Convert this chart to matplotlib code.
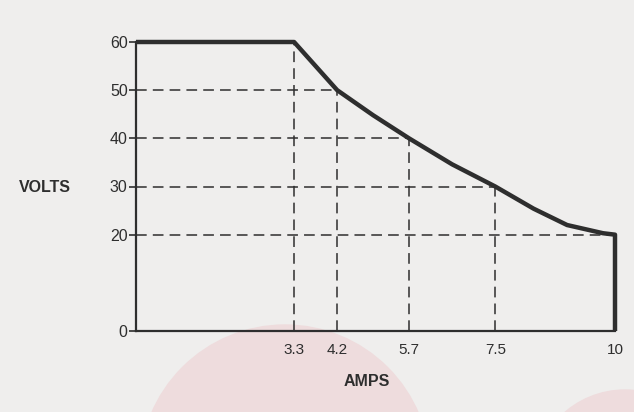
import matplotlib
matplotlib.use('Agg')
import matplotlib.pyplot as plt
from matplotlib.patches import Circle

# rated output envelope
amps = [0, 3.3, 3.75, 4.2, 4.95, 5.7, 6.6, 7.5, 8.3, 9.0, 9.75, 10, 10]
volts = [60, 60, 55, 50, 44.8, 40, 34.6, 30, 25.4, 22.0, 20.3, 20, 0]

# guide points marked on the axes
guide_amps = [3.3, 4.2, 5.7, 7.5, 10]
guide_volts = [60, 50, 40, 30, 20]

xtick_vals = [3.3, 4.2, 5.7, 7.5, 10]
xtick_labels = ['3.3', '4.2', '5.7', '7.5', '10']
ytick_vals = [0, 20, 30, 40, 50, 60]

ink = '#2e2e2e'
bg = '#efeeed'
pink = '#eedcdd'

plt.rcParams['font.family'] = ['Liberation Sans', 'DejaVu Sans']

fig = plt.figure(figsize=(6.34, 4.12), dpi=100, facecolor=bg)

# faint printed blobs behind the chart
fig.patches.append(Circle((285, -58), 145, transform=None, color=pink, zorder=0))
fig.patches.append(Circle((625, -70), 92, transform=None, color=pink, zorder=0))

ax = fig.add_axes([136/634, 81/412, 479/634, 289/412])
ax.set_zorder(2)
ax.set_facecolor('none')
ax.set_xlim(0, 10)
ax.set_ylim(0, 60)

dash = dict(color=ink, lw=1.1, dashes=(7, 4), zorder=2)
for a, v in zip(guide_amps, guide_volts):
    if v < 60:
        ax.plot([0, a], [v, v], **dash)
    if a < 10:
        ax.plot([a, a], [0, v], **dash)

ax.plot(amps, volts, color=ink, lw=3.2, solid_joinstyle='round',
        solid_capstyle='butt', clip_on=False, zorder=3)

for s in ['top', 'right']:
    ax.spines[s].set_visible(False)
for s in ['left', 'bottom']:
    ax.spines[s].set_linewidth(1.6)
    ax.spines[s].set_color(ink)

ax.set_xticks(xtick_vals)
ax.set_xticklabels(xtick_labels)
ax.set_yticks(ytick_vals)
ax.tick_params(axis='x', length=0, pad=9, labelsize=11, labelcolor=ink)
ax.tick_params(axis='y', length=5, width=1.2, color=ink, pad=1, labelsize=11.5, labelcolor=ink)

fig.text(45/634, 1 - 188/412, 'VOLTS', ha='center', va='center',
         fontsize=11.5, fontweight='bold', color=ink)
fig.text(367/634, 1 - 381/412, 'AMPS', ha='center', va='center',
         fontsize=11.5, fontweight='bold', color=ink)

fig.savefig('out.png', dpi=100, facecolor=bg)
